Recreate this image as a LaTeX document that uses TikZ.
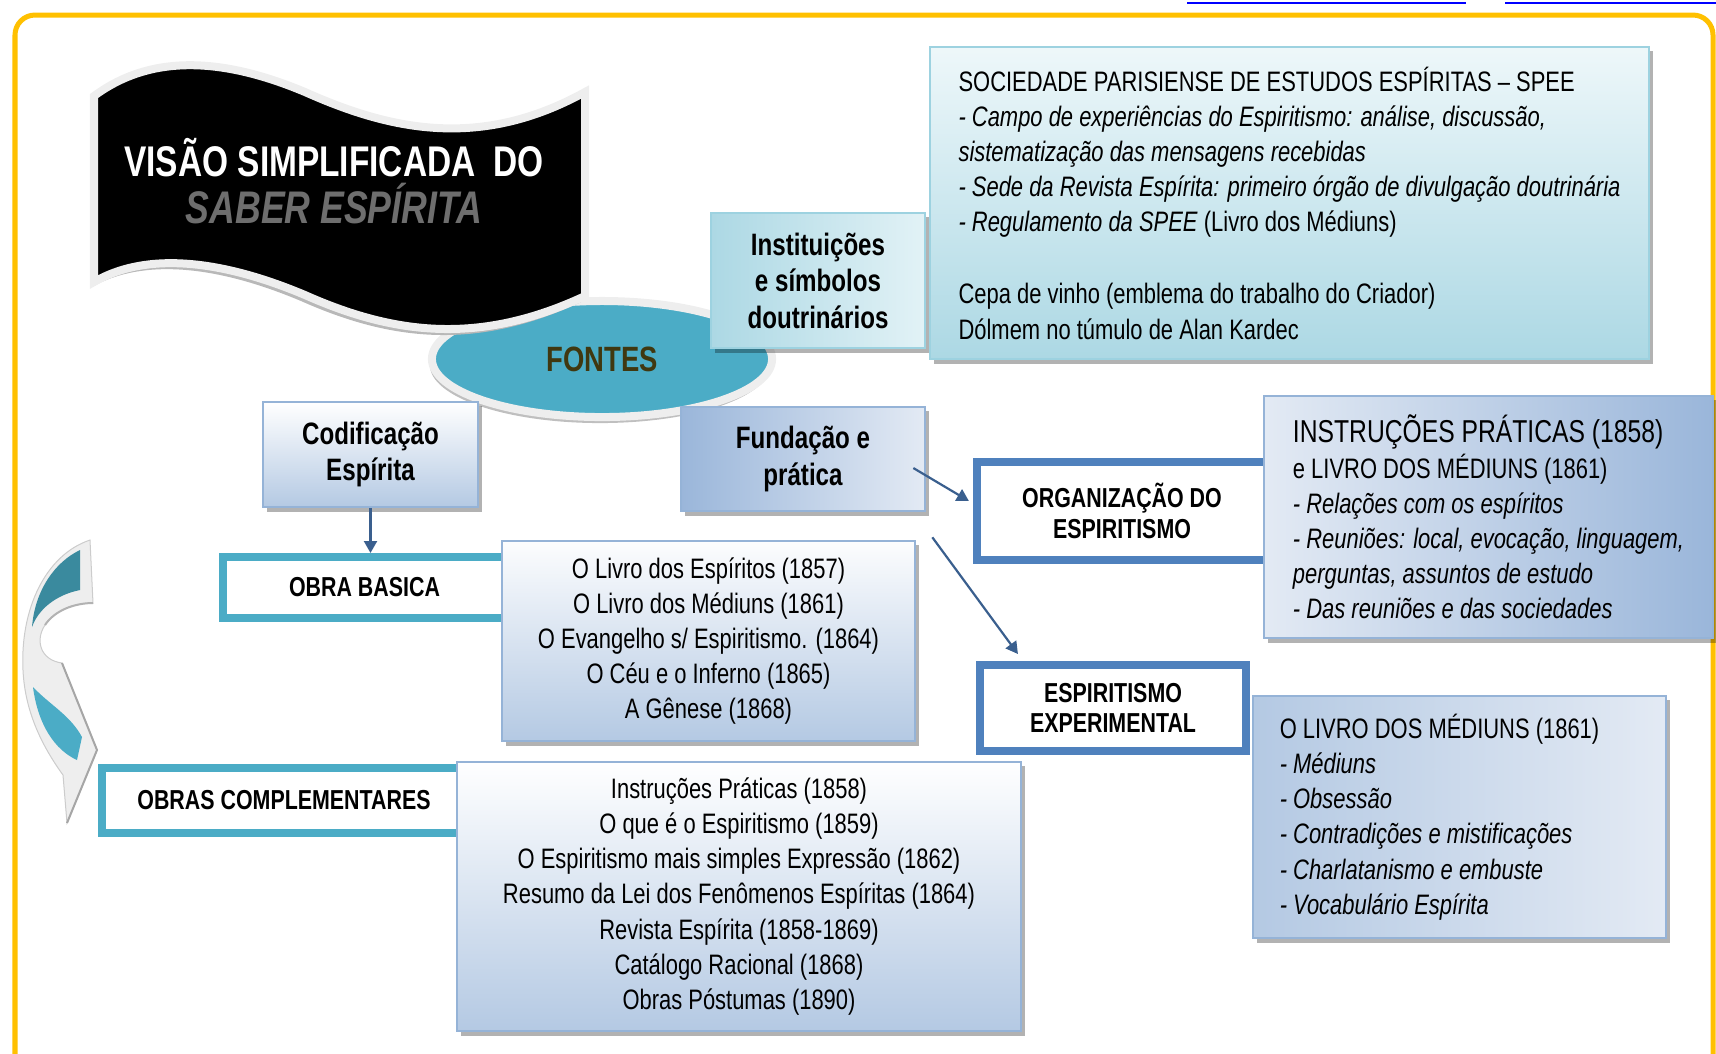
\documentclass[tikz,border=0pt]{standalone}
\usepackage{fontspec}
\setmainfont[FakeStretch=0.78]{Liberation Sans}
\usetikzlibrary{arrows.meta,positioning,calc,shapes.geometric,shadows}
\definecolor{framegold}{HTML}{FFC000}
\definecolor{fteal}{HTML}{4BACC6}
\definecolor{fblue}{HTML}{4F81BD}
\definecolor{arrowblue}{HTML}{3A5F8E}
\definecolor{tealline}{HTML}{9DD2E0}
\definecolor{tealpale}{HTML}{E2F2F6}
\definecolor{tealmid}{HTML}{ACD8E4}
\definecolor{blueline}{HTML}{95B3D7}
\definecolor{bluepale}{HTML}{E3EAF4}
\definecolor{bluemid}{HTML}{B4C9E3}
\definecolor{bluedeep}{HTML}{9AB6DA}
\definecolor{titlegray}{HTML}{6E6E6E}
\definecolor{fontesink}{HTML}{403810}
\definecolor{bannerrim}{HTML}{EEEEEE}
\definecolor{arcdark}{HTML}{3A8A9E}
\definecolor{linkblue}{HTML}{0000FF}

\newcommand\flagpath{(94,96) .. controls (140,62) and (205,50) .. (305,92)
  .. controls (390,130) and (480,150) .. (585,92) -- (585,296)
  .. controls (480,345) and (395,335) .. (305,295)
  .. controls (210,255) and (140,255) .. (94,282) -- cycle}

\begin{document}
\begin{tikzpicture}[x=0.01cm,y=-0.01cm,
  boxshadow/.style={drop shadow={shadow xshift=0.04cm,shadow yshift=-0.045cm,fill=black,opacity=0.3}},
  tealbox/.style={rectangle,draw=tealline,line width=0.025cm,boxshadow,inner sep=0pt},
  bluebox/.style={rectangle,draw=blueline,line width=0.025cm,boxshadow,inner sep=0pt},
  ringbox/.style={rectangle,fill=white,line width=0.08cm,inner sep=0pt,align=center,
    font=\fontsize{7.8}{8.6}\selectfont\bfseries},
  headbox/.style={align=center,font=\fontsize{8.8}{10.4}\selectfont\bfseries},
  listtext/.style={font=\fontsize{8}{10}\selectfont},
  link/.style={draw=arrowblue,line width=0.022cm,-{Triangle[length=0.12cm,width=0.13cm]}}
]
\useasboundingbox (0,0) rectangle (1716,1053);

% page frame and cut-off links above it
\draw[framegold,line width=0.05cm,rounded corners=0.2cm] (15,15) rectangle (1713,1075);
\draw[linkblue,line width=0.02cm] (1187,3) -- (1466,3) (1505,3) -- (1716,3);

% centre
\node[ellipse,fill=fteal,draw=bannerrim,line width=0.08cm,minimum width=3.4cm,minimum height=1.16cm,
  drop shadow={shadow xshift=-0.02cm,shadow yshift=-0.06cm,fill=black,opacity=0.25},
  font=\fontsize{10}{12}\selectfont\bfseries,text=fontesink] (fontes) at (602,359) {FONTES};

% title flag
\fill[black!28,shift={(-4,6)}] \flagpath;
\draw[fill=black,draw=bannerrim,line width=0.08cm] \flagpath;
\node[font=\fontsize{12.2}{13.4}\selectfont\bfseries,text=white,align=center] (title) at (334,181)
  {VISÃO SIMPLIFICADA\hspace{0.2em} DO\\\textcolor{titlegray}{\fontsize{13}{13.4}\selectfont\itshape SABER ESPÍRITA}};

% institutions
\node[tealbox,listtext,top color=tealpale!60!white,bottom color=tealmid,align=left,
  minimum width=7.19cm,minimum height=3.12cm] (spee) at (1289.5,203)
  {SOCIEDADE PARISIENSE DE ESTUDOS ESPÍRITAS – SPEE\\
   \textit{- Campo de experiências do Espiritismo: análise, discussão,}\\
   \textit{sistematização das mensagens recebidas}\\
   \textit{- Sede da Revista Espírita: primeiro órgão de divulgação doutrinária}\\
   \textit{- Regulamento da SPEE} (Livro dos Médiuns)\\[10.5pt]
   Cepa de vinho (emblema do trabalho do Criador)\\
   Dólmem no túmulo de Alan Kardec};
\node[tealbox,headbox,left color=tealmid,right color=tealpale,
  minimum width=2.14cm,minimum height=1.35cm] (inst) at (818,280.5)
  {Instituições\\e símbolos\\doutrinários};

\node[bluebox,headbox,top color=white,bottom color=bluemid,
  minimum width=2.15cm,minimum height=1.05cm] (cod) at (370.5,454.5) {Codificação\\Espírita};
\node[bluebox,headbox,left color=bluedeep,right color=bluepale,
  minimum width=2.44cm,minimum height=1.04cm] (fund) at (803,459) {Fundação e\\prática};

% works
\node[ringbox,draw=fteal,minimum width=2.83cm,minimum height=0.61cm] (obra) at (364.5,587.5) {OBRA BASICA};
\node[bluebox,listtext,align=center,top color=white!90!bluepale,bottom color=bluemid,
  minimum width=4.13cm,minimum height=2.0cm] (obralist) at (708.5,641)
  {O Livro dos Espíritos (1857)\\O Livro dos Médiuns (1861)\\O Evangelho s/ Espiritismo. (1864)\\
   O Céu e o Inferno (1865)\\A Gênese (1868)};

\node[ringbox,draw=fteal,minimum width=3.64cm,minimum height=0.65cm] (comp) at (284,800.5) {OBRAS COMPLEMENTARES};
\node[bluebox,listtext,align=center,top color=white,bottom color=bluemid,
  minimum width=5.64cm,minimum height=2.69cm] (complist) at (739,896.5)
  {Instruções Práticas (1858)\\O que é o Espiritismo (1859)\\O Espiritismo mais simples Expressão (1862)\\
   Resumo da Lei dos Fenômenos Espíritas (1864)\\Revista Espírita (1858-1869)\\
   Catálogo Racional (1868)\\Obras Póstumas (1890)};

% organisation
\node[ringbox,draw=fblue,minimum width=2.9cm,minimum height=0.98cm] (org) at (1122,511) {ORGANIZAÇÃO DO\\ESPIRITISMO};
\node[bluebox,listtext,align=left,left color=bluepale,right color=bluedeep,
  minimum width=4.49cm,minimum height=2.42cm] (instr) at (1488.5,517)
  {{\fontsize{9}{10}\selectfont INSTRUÇÕES PRÁTICAS (1858)}\\
   e LIVRO DOS MÉDIUNS (1861)\\
   \textit{- Relações com os espíritos}\\
   \textit{- Reuniões: local, evocação, linguagem,}\\
   \textit{perguntas, assuntos de estudo}\\
   \textit{- Das reuniões e das sociedades}};

\node[ringbox,draw=fblue,minimum width=2.66cm,minimum height=0.86cm] (esp) at (1113,708) {ESPIRITISMO\\EXPERIMENTAL};
\node[bluebox,listtext,align=left,left color=bluemid,right color=bluepale,
  minimum width=4.13cm,minimum height=2.42cm] (olivro) at (1459.5,817)
  {O LIVRO DOS MÉDIUNS (1861)\hspace*{0.4cm}\\
   \textit{- Médiuns}\\
   \textit{- Obsessão}\\
   \textit{- Contradições e mistificações}\\
   \textit{- Charlatanismo e embuste}\\
   \textit{- Vocabulário Espírita}};

% connectors
\draw[link] (cod.south) -- (cod.south |- obra.north);
\draw[link] ($(fund.east)+(-13,9)$) -- ($(org.west)+(-4,-10)$);
\draw[link] ($(fund.south east)+(6,25)$) -- ($(esp.north west)+(42,-7)$);

% curved arrow at the left
\draw[fill=bannerrim,draw=black!20,line width=0.01cm]
  (90,540) .. controls (45,555) and (20,610) .. (23,670)
  .. controls (25,715) and (45,750) .. (63,775) -- (67,823) -- (97,750) -- (62,663)
  .. controls (40,660) and (35,640) .. (45,625) .. controls (55,610) and (75,603) .. (93,603) -- cycle;
\fill[arcdark] (80,550) -- (80,590) .. controls (55,595) and (38,610) .. (32,627)
  .. controls (35,590) and (55,562) .. (80,550) -- cycle;
\fill[fteal] (33,687) .. controls (50,705) and (70,715) .. (82,737) -- (77,760)
  .. controls (55,750) and (38,725) .. (33,687) -- cycle;
\draw[black!35,line width=0.02cm] (62,663) -- (97,750) -- (67,823);
\draw[black!30,line width=0.02cm] (93,603) .. controls (75,603) and (55,610) .. (45,625);
\end{tikzpicture}
\end{document}
